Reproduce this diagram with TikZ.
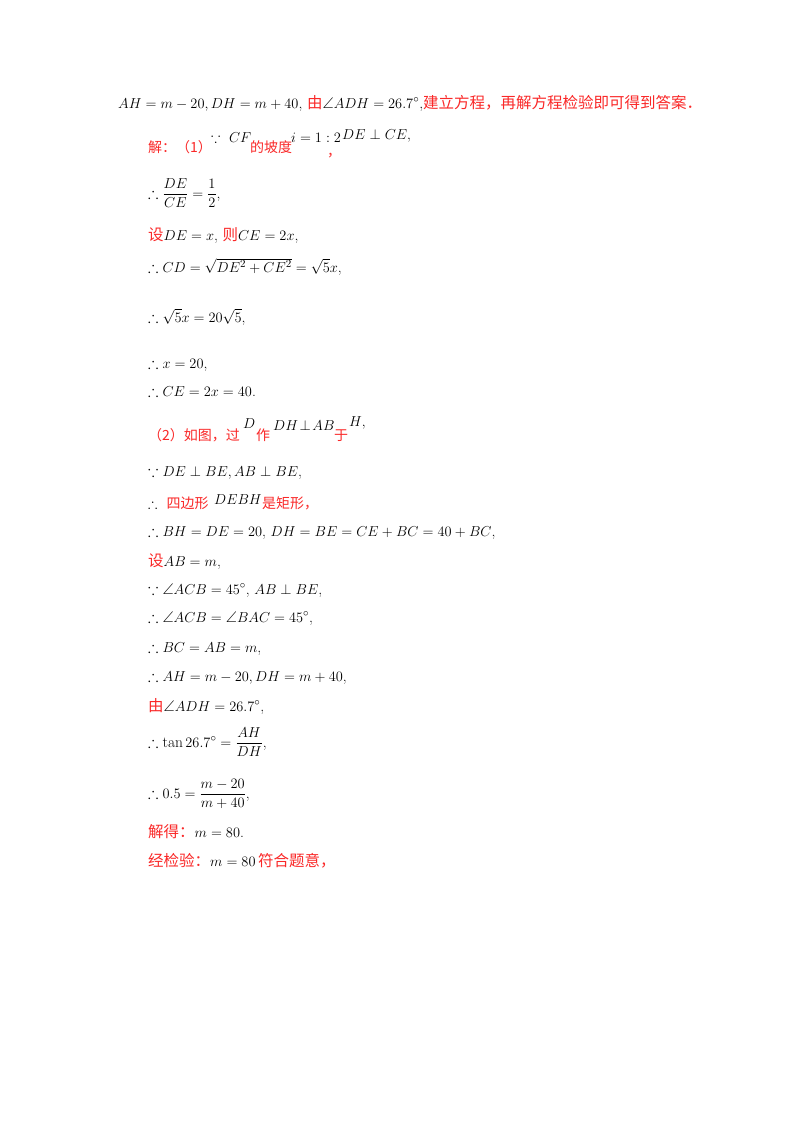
\documentclass[tikz,border=0pt]{standalone}
\usepackage{amsmath,amssymb}
\usepackage{fontspec}
\newfontfamily\cjk{Noto Sans CJK SC}
\definecolor{rd}{RGB}{250,40,40}
\newcommand{\hz}[1]{{\cjk\color{rd}#1}}
\begin{document}
\begin{tikzpicture}[x=1pt,y=-1pt,t/.style={anchor=base west,inner sep=0pt,font=\fontsize{15.5}{18}\selectfont},
s/.style={t,font=\fontsize{14}{16}\selectfont}]
\useasboundingbox (0,0) rectangle (800,1132);
\fill[white] (0,0) rectangle (800,1132);
\node[t] (l1) at (118,108) {$AH=m-20,DH=m+40$,\ \hz{由}$\angle ADH=26.7^\circ$,\hz{建立方程，再解方程检验即可得到答案．}};
\node[s] (l2a) at (148,152) {\hz{解：（1）}};
\node[s] (l2b) at (211,142) {$\because\ CF$};
\node[s] (l2c) at (250,152) {\hz{的坡度}};
\node[s] (l2d) at (291,142) {$i=1:2$};
\node[s] (l2e) at (327,156) {\hz{，}};
\node[s] (l2f) at (342,139) {$DE\perp CE$,};
\node[t] (l3) at (148,198) {$\therefore\dfrac{DE}{CE}=\dfrac{1}{2}$,};
\node[t] (l4) at (148,240) {\hz{设}$DE=x$,\ \hz{则}$CE=2x$,};
\node[t] (l5) at (148,272) {$\therefore CD=\sqrt{DE^2+CE^2}=\sqrt5x$,};
\node[t] (l6) at (148,322) {$\therefore\sqrt5x=20\sqrt5$,};
\node[t] (l7) at (148,368) {$\therefore x=20$,};
\node[t] (l8) at (148,396) {$\therefore CE=2x=40$.};
\node[s] (l9a) at (148,440) {\hz{（2）如图，过}};
\node[s] (l9b) at (243,428) {$D$};
\node[s] (l9c) at (256,440) {\hz{作}};
\node[s] (l9d) at (273,430) {$DH\!\perp\! AB$};
\node[s] (l9e) at (334,440) {\hz{于}};
\node[s] (l9f) at (349,426) {$H$,};
\node[t] (l10) at (148,476) {$\because DE\perp BE,AB\perp BE$,};
\node[s] (l11a) at (148,508) {$\therefore$\ \ \hz{四边形}};
\node[s] (l11b) at (214,504) {$DEBH$};
\node[s] (l11c) at (262,508) {\hz{是矩形，}};
\node[t] (l12) at (148,536) {$\therefore BH=DE=20$,\ $DH=BE=CE+BC=40+BC$,};
\node[t] (l13) at (148,566) {\hz{设}$AB=m$,};
\node[t] (l14) at (148,594) {$\because\angle ACB=45^\circ$,\ $AB\perp BE$,};
\node[t] (l15) at (148,622) {$\therefore\angle ACB=\angle BAC=45^\circ$,};
\node[t] (l16) at (148,652) {$\therefore BC=AB=m$,};
\node[t] (l17) at (148,681) {$\therefore AH=m-20,DH=m+40$,};
\node[t] (l18) at (148,711) {\hz{由}$\angle ADH=26.7^\circ$,};
\node[t] (l19) at (148,747) {$\therefore\tan26.7^\circ=\dfrac{AH}{DH}$,};
\node[t] (l20) at (148,798) {$\therefore0.5=\dfrac{m-20}{m+40}$,};
\node[t] (l21) at (148,837) {\hz{解得：}$m=80$.};
\node[t] (l22) at (148,866) {\hz{经检验：}$m=80$\,\hz{符合题意，}};
\end{tikzpicture}
\end{document}
